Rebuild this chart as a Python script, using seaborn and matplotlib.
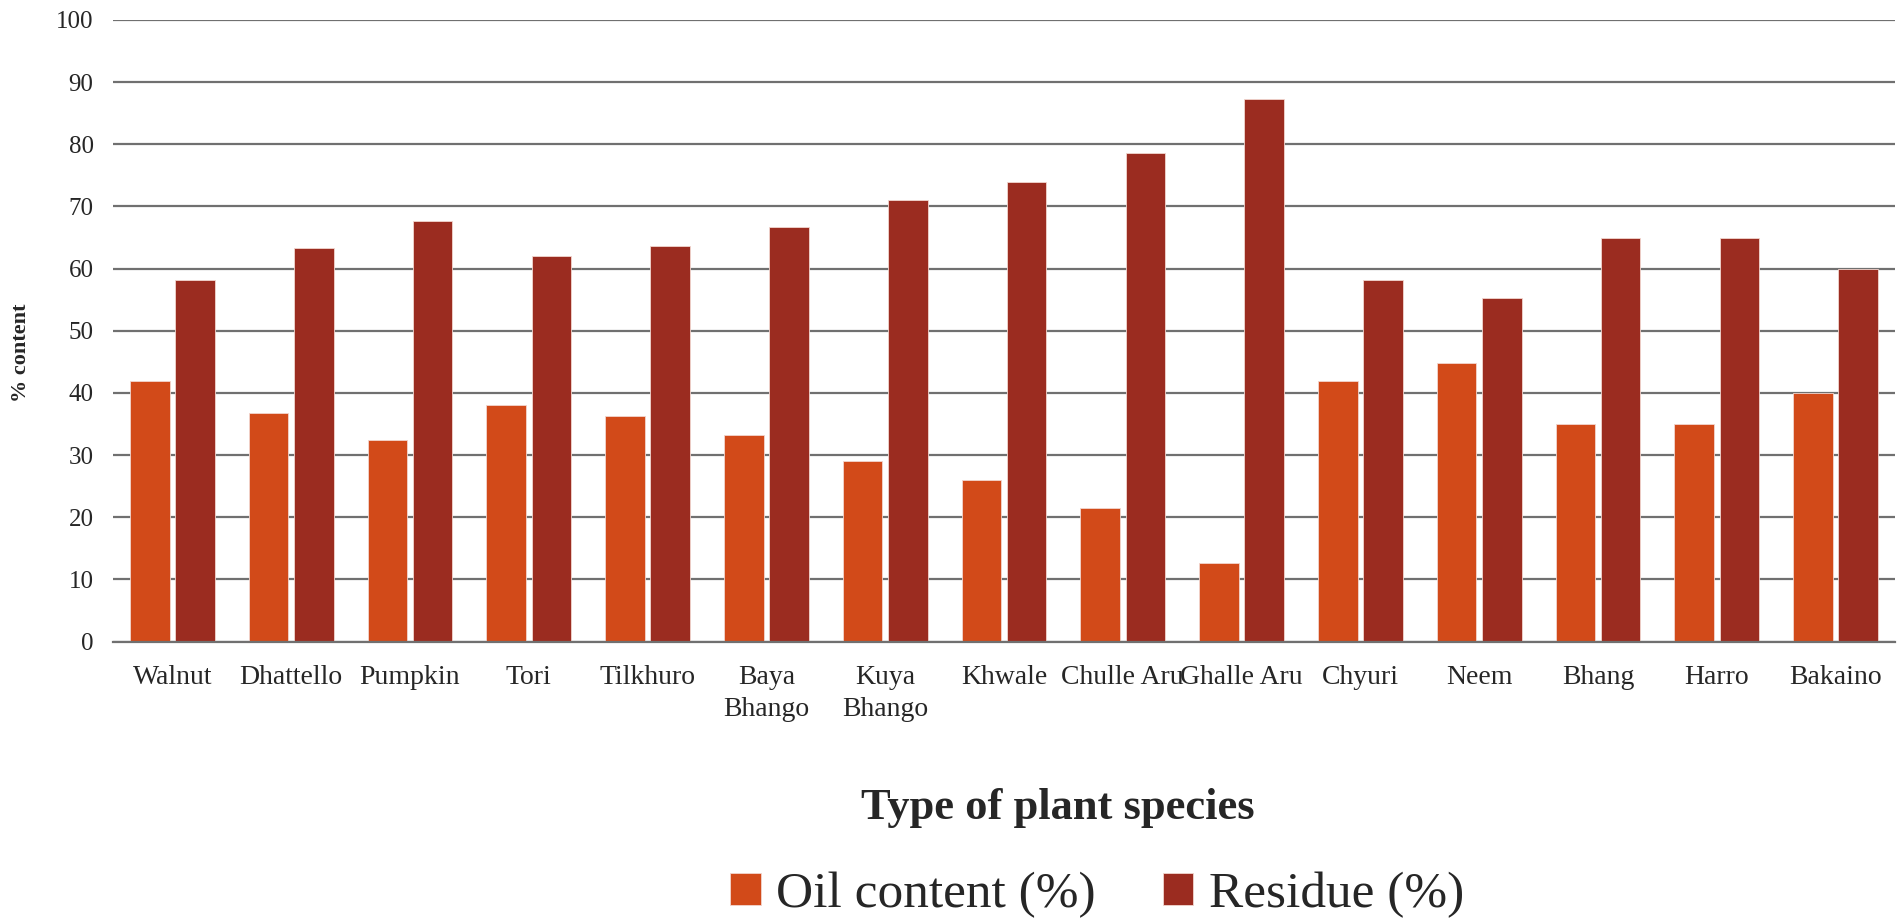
import matplotlib
matplotlib.use("Agg")
import matplotlib.pyplot as plt
import seaborn as sns
import pandas as pd

# Plant species and their oil / residue shares (%)
species = ["Walnut", "Dhattello", "Pumpkin", "Tori", "Tilkhuro", "Baya\nBhango",
           "Kuya\nBhango", "Khwale", "Chulle Aru", "Ghalle Aru", "Chyuri", "Neem",
           "Bhang", "Harro", "Bakaino"]
oil_content = [41.9, 36.7, 32.4, 38.0, 36.3, 33.3, 29.0, 26.0, 21.4, 12.7,
               41.9, 44.8, 35.0, 35.0, 40.0]
residue = [58.1, 63.3, 67.6, 62.0, 63.7, 66.7, 71.0, 74.0, 78.6, 87.3,
           58.1, 55.2, 65.0, 65.0, 60.0]
series_names = ["Oil content (%)", "Residue (%)"]
y_ticks = list(range(0, 101, 10))

df = pd.DataFrame({
    "species": species * 2,
    "value": oil_content + residue,
    "series": [series_names[0]] * len(species) + [series_names[1]] * len(species),
})

sns.set_theme(style="white")
plt.rcParams["font.family"] = ["Liberation Serif", "DejaVu Serif"]

fig = plt.figure(figsize=(19.01, 9.19), dpi=100)
ax = fig.add_axes([113 / 1901, 1 - 641.5 / 919, 1782 / 1901, (641.5 - 20) / 919])

sns.barplot(data=df, x="species", y="value", hue="series", order=species,
            hue_order=series_names, palette=["#D24A19", "#9B2C20"],
            width=0.76, gap=0.12, saturation=1, ax=ax,
            edgecolor="#f2d6cf", linewidth=0.6)

ax.set_xlim(-0.5, len(species) - 0.5)
ax.set_ylim(0, 100)
ax.set_yticks(y_ticks)
ax.yaxis.grid(True, color="#707070", linewidth=1.6)
ax.set_axisbelow(True)
for side in ["left", "right", "top"]:
    ax.spines[side].set_visible(False)
ax.spines["bottom"].set_color("#707070")
ax.spines["bottom"].set_linewidth(1.6)
ax.tick_params(axis="both", length=0)
ax.tick_params(axis="y", labelsize=18, pad=14)
ax.tick_params(axis="x", labelsize=20, pad=17)
for lbl in ax.get_xticklabels():
    lbl.set_linespacing(1.35)

ax.set_xlabel("")
ax.set_ylabel("% content", fontsize=16, fontweight="bold")
ax.yaxis.set_label_coords(-0.046, 0.465)

fig.text(1058 / 1901, 1 - 808 / 919, "Type of plant species", fontsize=32,
         fontweight="bold", ha="center", va="center")

handles, labels = ax.get_legend_handles_labels()
ax.legend(handles, labels, loc="center", bbox_to_anchor=(1097 / 1901, 1 - 895 / 919),
          bbox_transform=fig.transFigure, ncol=2, frameon=False, fontsize=37,
          handlelength=0.6, handleheight=0.6, handletextpad=0.3,
          columnspacing=1.3, borderaxespad=0)

fig.savefig("out.png", dpi=100, facecolor="white")
